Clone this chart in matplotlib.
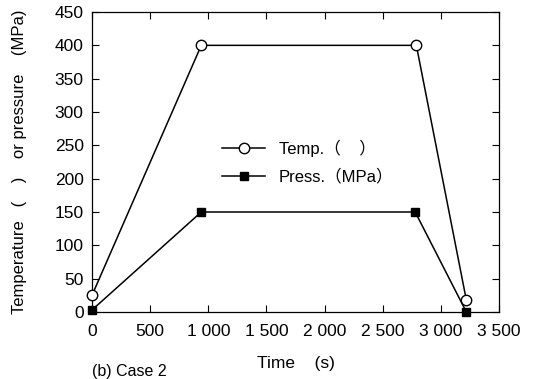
import matplotlib
matplotlib.use('Agg')
import matplotlib.pyplot as plt
from matplotlib.ticker import FuncFormatter

plt.rcParams['font.family'] = ['Liberation Sans', 'Noto Sans CJK SC', 'DejaVu Sans']

# Temperature and pressure schedule (Case 2)
time_temp = [0, 940, 2790, 3220]
temp = [25, 400, 400, 18]
time_press = [0, 940, 2780, 3220]
press = [3, 150, 150, 0]

xticks = [0, 500, 1000, 1500, 2000, 2500, 3000, 3500]
yticks = [0, 50, 100, 150, 200, 250, 300, 350, 400, 450]

fig = plt.figure(figsize=(5.33, 3.79), dpi=100)
ax = fig.add_axes([0.1726, 0.1768, 0.7634, 0.7915])

ax.plot(time_temp, temp, '-', color='black', lw=1.1, marker='o', ms=7.5,
        mfc='white', mec='black', mew=1.0, label='Temp.（    ）', clip_on=False, zorder=3)
ax.plot(time_press, press, '-', color='black', lw=1.1, marker='s', ms=6,
        mfc='black', mec='black', label='Press.（MPa）', clip_on=False, zorder=3)

ax.set_xlim(0, 3500)
ax.set_ylim(0, 450)
ax.set_xticks(xticks)
ax.set_yticks(yticks)
ax.xaxis.set_major_formatter(FuncFormatter(lambda v, p: f'{int(v):,}'.replace(',', ' ')))
ax.tick_params(direction='in', top=True, right=True, length=5, labelsize=12.5)
ax.tick_params(axis='x', pad=9)
ax.tick_params(axis='y', pad=6)

for s in ax.spines.values():
    s.set_linewidth(0.9)

ax.set_xlabel('Time    (s)', fontsize=12.5, labelpad=12)
ax.set_ylabel('Temperature   (    )    or pressure    (MPa)', fontsize=12, labelpad=20)

ax.legend(loc='center', bbox_to_anchor=(0.53, 0.5), frameon=False, fontsize=12,
          handlelength=2.6, labelspacing=0.7)

# caption sits in the bottom margin, under the x label
fig.text(0.172, 0.001, '(b) Case 2', fontsize=11.5, ha='left', va='bottom')

fig.savefig('out.png', dpi=100)
